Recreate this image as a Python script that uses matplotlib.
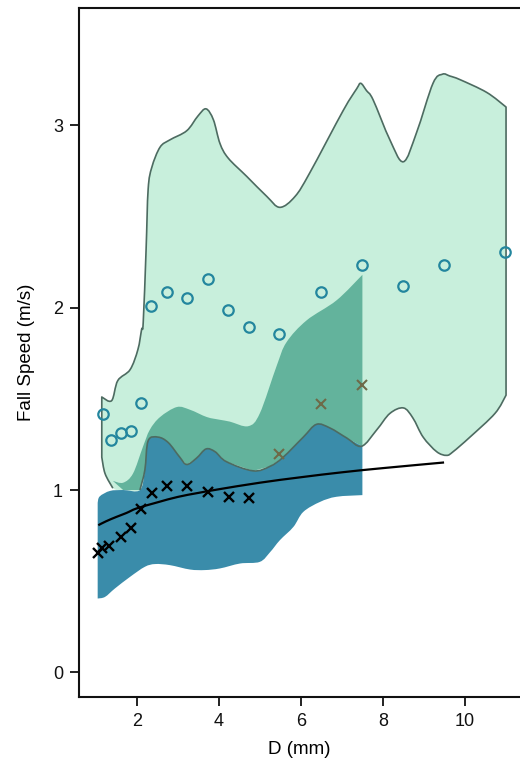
import numpy as np
import matplotlib
matplotlib.use("Agg")
import matplotlib.pyplot as plt
from matplotlib.path import Path
from matplotlib.patches import PathPatch

plt.rcParams['font.family'] = ['Liberation Sans', 'DejaVu Sans']

# ---- data (D in mm, fall speed in m/s) ----
# light (outer) envelope
env_up_D = [1.15, 1.39, 1.54, 1.84, 2.03, 2.12, 2.16, 2.23, 2.28, 2.37, 2.57, 2.81, 3.22, 3.49, 3.69,
            3.87, 4.03, 4.23, 4.68, 5.17, 5.49, 5.86, 6.22, 7.03, 7.36, 7.46, 7.60, 7.76, 8.17, 8.50,
            8.82, 9.22, 9.45, 9.63, 9.88, 10.53, 11.0]
env_up_v = [1.51, 1.49, 1.60, 1.66, 1.77, 1.88, 1.92, 2.32, 2.65, 2.77, 2.88, 2.92, 2.97, 3.05, 3.09,
            3.03, 2.90, 2.82, 2.72, 2.61, 2.55, 2.61, 2.74, 3.08, 3.20, 3.23, 3.19, 3.14, 2.92, 2.80,
            2.96, 3.23, 3.28, 3.27, 3.25, 3.18, 3.10]
env_lo_D = [1.15, 1.23, 1.42, 1.67, 2.08, 2.20, 2.28, 2.52, 2.77, 3.05, 3.22, 3.46, 3.69, 3.91, 4.19,
            4.84, 5.25, 5.57, 6.06, 6.38, 6.71, 7.12, 7.48, 7.85, 8.17, 8.50, 8.73, 8.98, 9.31, 9.55,
            9.71, 10.12, 10.73, 11.0]
env_lo_v = [1.18, 1.09, 1.01, 1.00, 1.00, 1.11, 1.27, 1.29, 1.26, 1.18, 1.14, 1.175, 1.225, 1.21, 1.155,
            1.105, 1.13, 1.18, 1.29, 1.36, 1.34, 1.285, 1.24, 1.33, 1.42, 1.45, 1.395, 1.29, 1.21, 1.19,
            1.21, 1.29, 1.42, 1.52]

# medium envelope (upper edge)
mid_up_D = [1.42, 1.67, 1.91, 2.15, 2.32, 2.57, 2.98, 3.30, 3.71, 4.03, 4.27, 4.72, 5.00, 5.41, 5.65,
            6.14, 6.87, 7.5]
mid_up_v = [1.05, 1.04, 1.09, 1.235, 1.33, 1.40, 1.455, 1.44, 1.40, 1.385, 1.375, 1.35, 1.42, 1.68, 1.81,
            1.93, 2.04, 2.18]

# dark envelope
dark_top_D = [1.05, 1.10, 1.35, 1.67, 2.08, 2.20, 2.28, 2.52, 2.77, 3.05, 3.22, 3.46, 3.69, 3.91, 4.19,
              4.84, 5.25, 5.57, 6.06, 6.38, 6.71, 7.12, 7.5]
dark_top_v = [0.93, 0.965, 0.995, 1.00, 1.00, 1.11, 1.27, 1.29, 1.26, 1.18, 1.14, 1.175, 1.225, 1.21, 1.155,
              1.105, 1.13, 1.18, 1.29, 1.36, 1.34, 1.285, 1.24]
dark_bot_D = [1.05, 1.23, 1.47, 1.84, 2.20, 2.45, 2.81, 3.30, 3.66, 4.03, 4.52, 5.00, 5.25, 5.49, 5.82,
              6.06, 6.47, 6.87, 7.5]
dark_bot_v = [0.405, 0.414, 0.46, 0.524, 0.579, 0.594, 0.588, 0.564, 0.561, 0.57, 0.597, 0.606, 0.659,
              0.725, 0.798, 0.88, 0.935, 0.963, 0.972]

# open circles
circ_D = [1.17, 1.37, 1.61, 1.85, 2.1, 2.35, 2.73, 3.22, 3.73, 4.23, 4.74, 5.47, 6.49, 7.48, 8.48, 9.49, 10.97]
circ_v = [1.415, 1.274, 1.31, 1.325, 1.478, 2.01, 2.084, 2.051, 2.155, 1.987, 1.895, 1.855, 2.087, 2.234,
          2.12, 2.234, 2.307]

# crosses
cross_D = [1.05, 1.155, 1.337, 1.618, 1.873, 2.11, 2.365, 2.745, 3.238, 3.744, 4.248, 4.743]
cross_v = [0.652, 0.680, 0.692, 0.743, 0.791, 0.897, 0.981, 1.024, 1.020, 0.987, 0.964, 0.954]
cross2_D = [5.474, 6.49, 7.481]
cross2_v = [1.197, 1.471, 1.575]

# fitted curve
fit_D = [1.065, 1.25, 1.5, 1.75, 2.0, 2.5, 3.0, 3.5, 4.0, 5.0, 6.0, 7.0, 8.0, 9.49]
fit_v = [0.807, 0.828, 0.852, 0.874, 0.899, 0.932, 0.962, 0.984, 1.004, 1.040, 1.070, 1.097, 1.120, 1.151]

xticks = [2, 4, 6, 8, 10]
yticks = [0, 1, 2, 3]

# ---- colours ----
c_light = '#c8efdc'
c_mid = '#63b39c'
c_dark = '#3a8caa'
c_edge = '#4d6b61'
c_circ = '#23869e'
c_cross2 = '#6e6a48'


def smooth(xs, ys):
    """Bezier control points (Catmull-Rom) through the given vertices; first vertex excluded."""
    p = np.column_stack([xs, ys]).astype(float)
    n = len(p)
    verts = []
    for i in range(n - 1):
        p0 = p[i - 1] if i > 0 else p[i]
        p1 = p[i]
        p2 = p[i + 1]
        p3 = p[i + 2] if i + 2 < n else p[i + 1]
        verts += [p1 + (p2 - p0) / 6.0, p2 - (p3 - p1) / 6.0, p2]
    return verts, [Path.CURVE4] * len(verts)


class PB:
    def __init__(self, x0, y0):
        self.v = [(x0, y0)]
        self.c = [Path.MOVETO]

    def curve(self, xs, ys):
        v, c = smooth(xs, ys)
        self.v += [tuple(a) for a in v]
        self.c += c

    def line(self, x, y):
        self.v.append((x, y))
        self.c.append(Path.LINETO)

    def close(self):
        self.v.append(self.v[0])
        self.c.append(Path.CLOSEPOLY)

    def path(self):
        return Path(self.v, self.c)


fig = plt.figure(figsize=(5.2, 7.61), dpi=100)
ax = fig.add_axes([79 / 520, 64 / 761, 441 / 520, 689 / 761])

# light envelope
pb = PB(env_up_D[0], env_up_v[0])
pb.curve(env_up_D, env_up_v)
pb.line(env_lo_D[-1], env_lo_v[-1])
pb.curve(env_lo_D[::-1], env_lo_v[::-1])
pb.close()
ax.add_patch(PathPatch(pb.path(), facecolor=c_light, lw=0, zorder=1))

# medium envelope
pb = PB(mid_up_D[0], mid_up_v[0])
pb.curve(mid_up_D, mid_up_v)
for d, v in zip(dark_top_D[::-1], dark_top_v[::-1]):
    if d >= mid_up_D[0]:
        pb.line(d, v)
pb.close()
ax.add_patch(PathPatch(pb.path(), facecolor=c_mid, lw=0, zorder=2))

# dark envelope
pb = PB(dark_top_D[0], dark_top_v[0])
pb.curve(dark_top_D, dark_top_v)
pb.line(dark_bot_D[-1], dark_bot_v[-1])
pb.curve(dark_bot_D[::-1], dark_bot_v[::-1])
pb.close()
ax.add_patch(PathPatch(pb.path(), facecolor=c_dark, lw=0, zorder=3))

# outline of the light envelope (skipping the hidden part at its lower left)
lo_D = np.array(env_lo_D)
lo_v = np.array(env_lo_v)
left = lo_D <= 1.42
right = lo_D >= 2.08
ld, lv = lo_D[left][::-1], lo_v[left][::-1]
rd, rv = lo_D[right][::-1], lo_v[right][::-1]
pb = PB(ld[0], lv[0])
pb.curve(ld, lv)
pb.line(env_up_D[0], env_up_v[0])
pb.curve(env_up_D, env_up_v)
pb.line(rd[0], rv[0])
pb.curve(rd, rv)
ax.add_patch(PathPatch(pb.path(), facecolor='none', edgecolor=c_edge, lw=1.2, zorder=4,
                       joinstyle='round'))

# fitted curve
pb = PB(fit_D[0], fit_v[0])
pb.curve(fit_D, fit_v)
ax.add_patch(PathPatch(pb.path(), facecolor='none', edgecolor='black', lw=1.6, zorder=5))

# markers
ax.plot(circ_D, circ_v, 'o', mfc='none', mec=c_circ, mew=1.6, ms=7.5, zorder=6, clip_on=False)
ax.plot(cross_D, cross_v, 'x', color='black', mew=1.7, ms=7.5, zorder=6)
ax.plot(cross2_D, cross2_v, 'x', color=c_cross2, mew=1.5, ms=7, zorder=6)

ax.set_xlim(0.595, 11.34)
ax.set_ylim(-0.135, 3.643)
ax.set_xticks(xticks)
ax.set_yticks(yticks)
ax.tick_params(direction='out', length=6.5, width=1.3, labelsize=13, pad=5, colors='#111111')
for s in ['left', 'bottom', 'top']:
    ax.spines[s].set_linewidth(1.5)
    ax.spines[s].set_color('#111111')
ax.spines['right'].set_visible(False)

ax.set_xlabel('D (mm)', fontsize=13.5, labelpad=8)
ax.set_ylabel('Fall Speed (m/s)', fontsize=13.5, labelpad=13)

fig.savefig('out.png', dpi=100)
